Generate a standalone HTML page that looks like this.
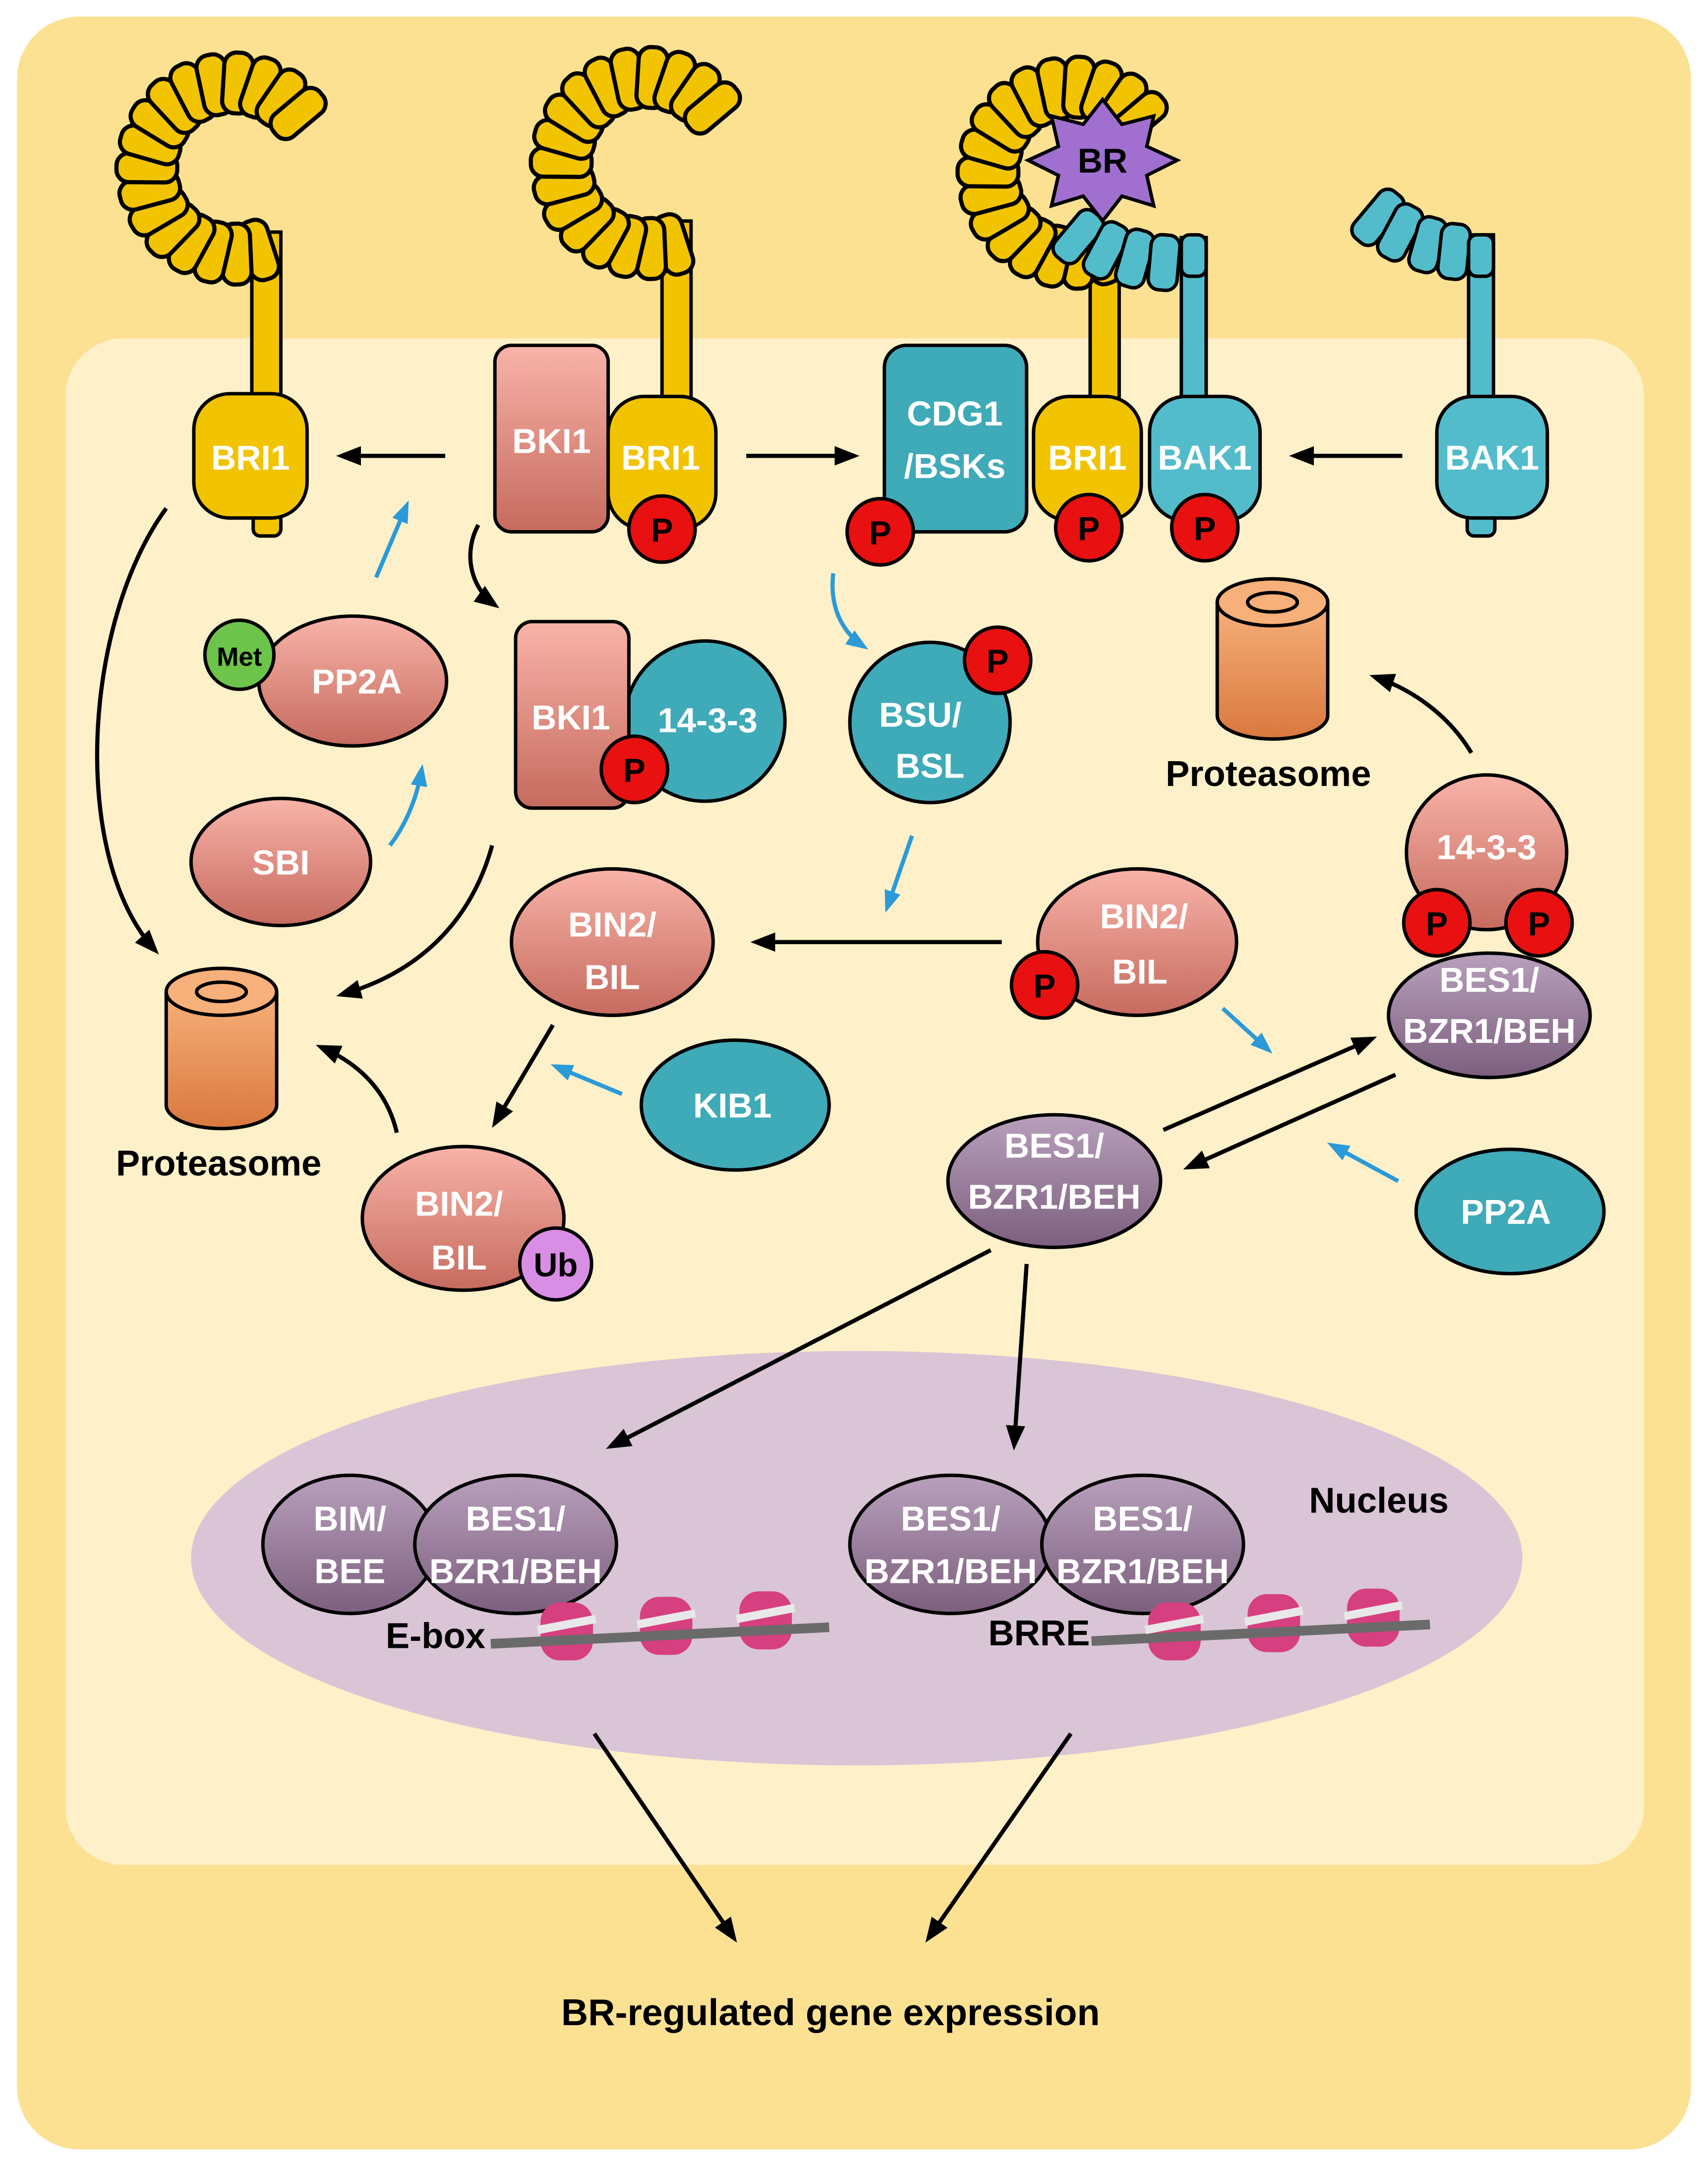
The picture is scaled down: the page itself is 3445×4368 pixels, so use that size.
<!DOCTYPE html>
<html><head><meta charset="utf-8"><style>
html,body{margin:0;padding:0;background:#fff;}
svg{display:block;}
text{font-family:"Liberation Sans",sans-serif;font-weight:bold;}
.w{fill:#fff;font-size:25px;text-anchor:middle;}
.b{fill:#000;font-size:26px;text-anchor:middle;}
</style></head><body>
<svg width="3445" height="4368" viewBox="0 0 1236 1568" xmlns="http://www.w3.org/2000/svg">
<defs>
<linearGradient id="sal" x1="0" y1="0" x2="0" y2="1"><stop offset="0" stop-color="#F9B3A8"/><stop offset="1" stop-color="#C66A5E"/></linearGradient>
<linearGradient id="pur" x1="0" y1="0" x2="0" y2="1"><stop offset="0" stop-color="#B8A0BC"/><stop offset="1" stop-color="#7C5F7E"/></linearGradient>
<linearGradient id="org" x1="0" y1="0" x2="0" y2="1"><stop offset="0" stop-color="#F7B07A"/><stop offset="1" stop-color="#D9783E"/></linearGradient>
<marker id="AK" markerWidth="18" markerHeight="18" refX="14" refY="9" orient="auto" markerUnits="userSpaceOnUse" viewBox="0 0 18 18"><path d="M0,2 L18,9 L0,16 z" fill="#000"/></marker>
<marker id="AB" markerWidth="16" markerHeight="16" refX="12" refY="8" orient="auto" markerUnits="userSpaceOnUse" viewBox="0 0 16 16"><path d="M0,2 L16,8 L0,14 z" fill="#2A9AD8"/></marker>
<g id="arc" fill="#F2C300" stroke="#000" stroke-width="3">
<rect x="40" y="-10.5" width="44" height="21" rx="9" transform="rotate(-288)"/>
<rect x="40" y="-10.5" width="44" height="21" rx="9" transform="rotate(-272.5)"/>
<rect x="40" y="-10.5" width="44" height="21" rx="9" transform="rotate(-257)"/>
<rect x="40" y="-10.5" width="44" height="21" rx="9" transform="rotate(-241.5)"/>
<rect x="40" y="-10.5" width="44" height="21" rx="9" transform="rotate(-226)"/>
<rect x="40" y="-10.5" width="44" height="21" rx="9" transform="rotate(-210.5)"/>
<rect x="40" y="-10.5" width="44" height="21" rx="9" transform="rotate(-195)"/>
<rect x="40" y="-10.5" width="44" height="21" rx="9" transform="rotate(-179.5)"/>
<rect x="40" y="-10.5" width="44" height="21" rx="9" transform="rotate(-164)"/>
<rect x="40" y="-10.5" width="44" height="21" rx="9" transform="rotate(-148.5)"/>
<rect x="40" y="-10.5" width="44" height="21" rx="9" transform="rotate(-133)"/>
<rect x="40" y="-10.5" width="44" height="21" rx="9" transform="rotate(-117.5)"/>
<rect x="40" y="-10.5" width="44" height="21" rx="9" transform="rotate(-102)"/>
<rect x="40" y="-10.5" width="44" height="21" rx="9" transform="rotate(-86.5)"/>
<rect x="40" y="-10.5" width="44" height="21" rx="9" transform="rotate(-71)"/>
<rect x="40" y="-10.5" width="44" height="21" rx="9" transform="rotate(-55.5)"/>
<rect x="40" y="-10.5" width="44" height="21" rx="9" transform="rotate(-40)"/>
</g>
</defs>

<rect x="12" y="12" width="1212" height="1544" rx="45" fill="#FCE193"/>
<rect x="47" y="245" width="1143" height="1105" rx="42" fill="#FEF0C8"/>
<ellipse cx="620" cy="1128" rx="482" ry="150" fill="#D9C5D6"/>

<g stroke="#000" stroke-width="2.5">
<rect x="182" y="168" width="21" height="125" fill="#F2C300"/>
<rect x="479" y="160" width="21" height="133" fill="#F2C300"/>
<rect x="789" y="180" width="21" height="113" fill="#F2C300"/>
<rect x="855" y="172" width="18" height="121" fill="#52BCCB"/>
<rect x="1063" y="170" width="18" height="123" fill="#52BCCB"/>
</g>

<use href="#arc" x="168" y="122"/>
<use href="#arc" x="468" y="118"/>
<use href="#arc" x="777" y="125"/>

<g fill="#52BCCB" stroke="#000" stroke-width="2.5">
<rect x="770" y="150" width="21" height="42" rx="8" transform="rotate(40 780 171)"/>
<rect x="790" y="160" width="21" height="42" rx="8" transform="rotate(28 800 181)"/>
<rect x="811" y="166" width="21" height="42" rx="8" transform="rotate(16 821 187)"/>
<rect x="832" y="170" width="21" height="40" rx="8" transform="rotate(5 842 190)"/>
<rect x="855" y="170" width="18" height="30" rx="6"/>
<rect x="987" y="135" width="21" height="44" rx="8" transform="rotate(40 997 157)"/>
<rect x="1003" y="147" width="21" height="42" rx="8" transform="rotate(28 1013 168)"/>
<rect x="1023" y="157" width="21" height="40" rx="8" transform="rotate(16 1033 177)"/>
<rect x="1042" y="162" width="21" height="40" rx="8" transform="rotate(6 1052 182)"/>
<rect x="1063" y="170" width="18" height="30" rx="6"/>
</g>
<polygon points="798,72 812,90 835,84 830,106 852,116 830,127 835,149 812,142 798,160 784,142 761,149 766,127 744,116 766,106 761,84 784,90" fill="#A06FD0" stroke="#000" stroke-width="2.5"/>
<text class="b" x="798" y="125" style="font-size:25px">BR</text>

<g stroke="#000" stroke-width="2.5">
<rect x="183" y="368" width="20" height="20" rx="5" fill="#F2C300"/>
<rect x="140" y="285" width="82" height="90" rx="26" fill="#F2C300"/>
<rect x="1062" y="368" width="20" height="20" rx="5" fill="#52BCCB"/>
<rect x="1040" y="287" width="80" height="88" rx="26" fill="#52BCCB"/>
<rect x="358" y="250" width="82" height="135" rx="12" fill="url(#sal)"/>
<rect x="440" y="287" width="78" height="96" rx="26" fill="#F2C300"/>
<rect x="640" y="250" width="103" height="135" rx="16" fill="#3FAAB8"/>
<rect x="748" y="287" width="78" height="90" rx="26" fill="#F2C300"/>
<rect x="832" y="287" width="80" height="90" rx="26" fill="#52BCCB"/>
</g>
<text class="w" x="181" y="340">BRI1</text>
<text class="w" x="1080" y="340">BAK1</text>
<text class="w" x="399" y="328">BKI1</text>
<text class="w" x="478" y="340">BRI1</text>
<text class="w" x="691" y="308">CDG1</text>
<text class="w" x="691" y="346">/BSKs</text>
<text class="w" x="787" y="340">BRI1</text>
<text class="w" x="872" y="340">BAK1</text>

<g stroke="#000" stroke-width="2.5">
<path d="M120,718 L120,800 A40,17 0 0 0 200,800 L200,718" fill="url(#org)"/>
<ellipse cx="160" cy="718" rx="40" ry="17" fill="#F7B07A"/>
<ellipse cx="160" cy="718" rx="18" ry="7" fill="none"/>
<path d="M881,436 L881,518 A40,17 0 0 0 961,518 L961,436" fill="url(#org)"/>
<ellipse cx="921" cy="436" rx="40" ry="17" fill="#F7B07A"/>
<ellipse cx="921" cy="436" rx="18" ry="7" fill="none"/>
</g>
<text class="b" x="158" y="851">Proteasome</text>
<text class="b" x="918" y="569">Proteasome</text>

<g stroke="#000" stroke-width="2.5">
<ellipse cx="255" cy="493" rx="68" ry="47" fill="url(#sal)"/>
<circle cx="173" cy="474" r="25" fill="#6CC44A"/>
<ellipse cx="203" cy="624" rx="65" ry="46" fill="url(#sal)"/>
<circle cx="510" cy="522" r="58" fill="#3FAAB8"/>
<rect x="373" y="450" width="82" height="135" rx="12" fill="url(#sal)"/>
<circle cx="673" cy="523" r="58" fill="#3FAAB8"/>
<ellipse cx="443" cy="682" rx="73" ry="53" fill="url(#sal)"/>
<ellipse cx="823" cy="682" rx="72" ry="53" fill="url(#sal)"/>
<ellipse cx="532" cy="800" rx="68" ry="47" fill="#3FAAB8"/>
<ellipse cx="335" cy="882" rx="73" ry="52" fill="url(#sal)"/>
<circle cx="402" cy="915" r="26" fill="#D98EE6"/>
<ellipse cx="1076" cy="617" rx="58" ry="56" fill="url(#sal)"/>
<ellipse cx="1078" cy="735" rx="73" ry="45" fill="url(#pur)"/>
<ellipse cx="763" cy="855" rx="77" ry="48" fill="url(#pur)"/>
<ellipse cx="1093" cy="877" rx="68" ry="45" fill="#3FAAB8"/>
<ellipse cx="253" cy="1118" rx="63" ry="50" fill="url(#pur)"/>
<ellipse cx="373" cy="1118" rx="73" ry="50" fill="url(#pur)"/>
<ellipse cx="688" cy="1118" rx="73" ry="50" fill="url(#pur)"/>
<ellipse cx="827" cy="1118" rx="73" ry="50" fill="url(#pur)"/>
</g>
<g fill="#E81010" stroke="#000" stroke-width="2.5">
<circle cx="479" cy="383" r="24"/><circle cx="637" cy="385" r="24"/><circle cx="788" cy="382" r="24"/><circle cx="872" cy="382" r="24"/>
<circle cx="459" cy="557" r="24"/><circle cx="722" cy="478" r="24"/><circle cx="756" cy="713" r="24"/>
<circle cx="1040" cy="668" r="24"/><circle cx="1114" cy="668" r="24"/>
</g>
<g class="b" style="font-size:24px">
<text x="479" y="392">P</text><text x="637" y="394">P</text><text x="788" y="391">P</text><text x="872" y="391">P</text>
<text x="459" y="566">P</text><text x="722" y="487">P</text><text x="756" y="722">P</text>
<text x="1040" y="677">P</text><text x="1114" y="677">P</text>
</g>
<text class="b" x="173" y="482" style="font-size:19px">Met</text>
<text class="b" x="402" y="924" style="font-size:24px">Ub</text>
<text class="w" x="258" y="502">PP2A</text>
<text class="w" x="203" y="633">SBI</text>
<text class="w" x="413" y="528">BKI1</text>
<text class="w" x="512" y="530">14-3-3</text>
<text class="w" x="666" y="526">BSU/</text>
<text class="w" x="673" y="563">BSL</text>
<text class="w" x="443" y="678">BIN2/</text>
<text class="w" x="443" y="716">BIL</text>
<text class="w" x="828" y="672">BIN2/</text>
<text class="w" x="825" y="712">BIL</text>
<text class="w" x="530" y="809">KIB1</text>
<text class="w" x="332" y="880">BIN2/</text>
<text class="w" x="332" y="919">BIL</text>
<text class="w" x="1076" y="622">14-3-3</text>
<text class="w" x="1078" y="718">BES1/</text>
<text class="w" x="1078" y="755">BZR1/BEH</text>
<text class="w" x="763" y="838">BES1/</text>
<text class="w" x="763" y="875">BZR1/BEH</text>
<text class="w" x="1090" y="886">PP2A</text>
<text class="w" x="253" y="1108">BIM/</text>
<text class="w" x="253" y="1146">BEE</text>
<text class="w" x="373" y="1108">BES1/</text>
<text class="w" x="373" y="1146">BZR1/BEH</text>
<text class="w" x="688" y="1108">BES1/</text>
<text class="w" x="688" y="1146">BZR1/BEH</text>
<text class="w" x="827" y="1108">BES1/</text>
<text class="w" x="827" y="1146">BZR1/BEH</text>

<g>
<g fill="#D63F80">
<rect x="391" y="1160" width="38" height="42" rx="14"/><rect x="463" y="1156" width="38" height="42" rx="14"/><rect x="535" y="1152" width="38" height="42" rx="14"/>
<rect x="831" y="1160" width="38" height="42" rx="14"/><rect x="903" y="1154" width="38" height="42" rx="14"/><rect x="975" y="1150" width="38" height="42" rx="14"/>
</g>
<line x1="355" y1="1190" x2="600" y2="1178" stroke="#6a6a6a" stroke-width="7"/>
<line x1="790" y1="1188" x2="1035" y2="1176" stroke="#6a6a6a" stroke-width="7"/>
<g stroke="#e8e8e8" stroke-width="6">
<line x1="389" y1="1180" x2="431" y2="1172"/><line x1="461" y1="1176" x2="503" y2="1168"/><line x1="533" y1="1172" x2="575" y2="1164"/>
<line x1="829" y1="1180" x2="871" y2="1172"/><line x1="901" y1="1174" x2="943" y2="1166"/><line x1="973" y1="1170" x2="1015" y2="1162"/>
</g>
</g>
<text class="b" x="315" y="1193">E-box</text>
<text class="b" x="752" y="1191">BRRE</text>
<text class="b" x="998" y="1095">Nucleus</text>
<text class="b" x="601" y="1466" style="font-size:27px">BR-regulated gene expression</text>

<g stroke="#000" stroke-width="3" fill="none" marker-end="url(#AK)">
<line x1="322" y1="330" x2="247" y2="330"/>
<line x1="540" y1="330" x2="618" y2="330"/>
<line x1="1015" y1="330" x2="937" y2="330"/>
<path d="M120,368 C60,450 50,620 112,688"/>
<path d="M346,380 C335,400 340,425 358,438"/>
<path d="M356,612 C340,670 300,705 247,720"/>
<path d="M287,820 C280,790 260,770 232,758"/>
<path d="M1065,545 C1050,520 1025,500 995,490"/>
<line x1="725" y1="682" x2="547" y2="682"/>
<line x1="400" y1="742" x2="358" y2="813"/>
<line x1="842" y1="818" x2="993" y2="752"/>
<line x1="1010" y1="778" x2="860" y2="845"/>
<line x1="717" y1="905" x2="442" y2="1047"/>
<line x1="743" y1="915" x2="734" y2="1046"/>
<line x1="430" y1="1255" x2="531" y2="1403"/>
<line x1="775" y1="1255" x2="672" y2="1403"/>
</g>
<g stroke="#2A9AD8" stroke-width="3" fill="none" marker-end="url(#AB)">
<line x1="272" y1="418" x2="294" y2="366"/>
<path d="M282,612 C295,595 302,575 305,557"/>
<path d="M603,415 C600,440 610,458 625,468"/>
<line x1="660" y1="605" x2="642" y2="657"/>
<line x1="885" y1="730" x2="918" y2="760"/>
<line x1="450" y1="792" x2="402" y2="772"/>
<line x1="1012" y1="855" x2="964" y2="829"/>
</g>
</svg>
</body></html>
